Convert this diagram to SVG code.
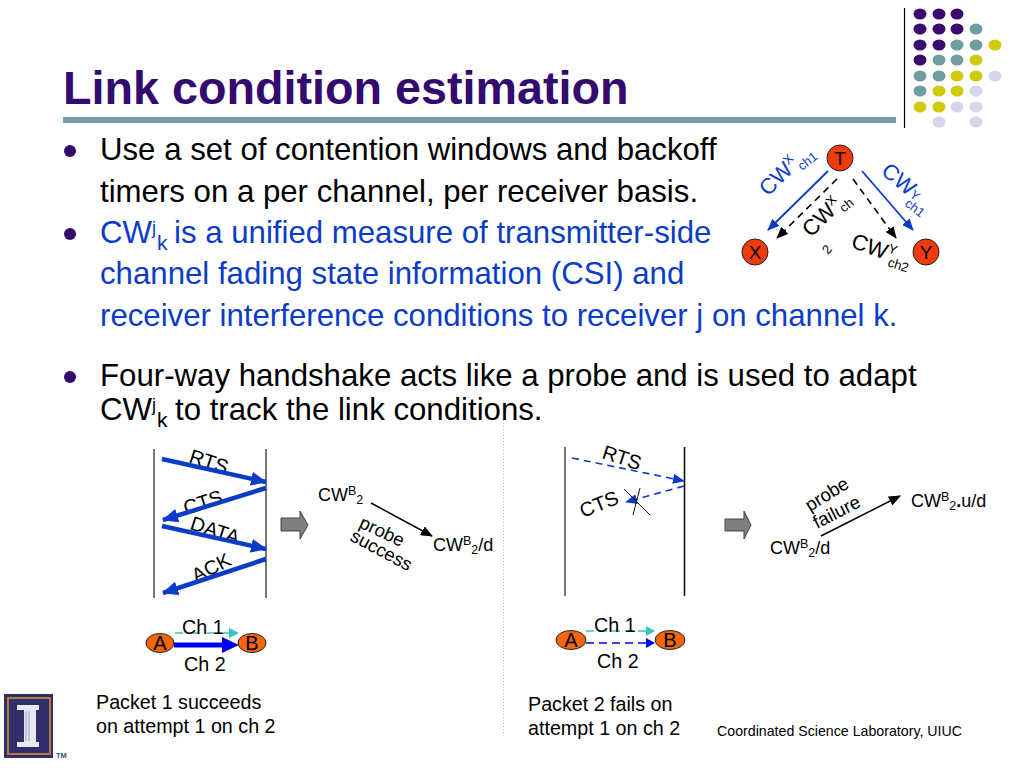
<svg xmlns="http://www.w3.org/2000/svg" width="1024" height="768" viewBox="0 0 1024 768">
<style>
text{font-family:"Liberation Sans",Arial,sans-serif;fill:#000}
.b{font-size:31.2px}
.bl{fill:#0a3cc8}
.c{font-size:19.7px}
.s{font-size:18px}
.m{font-size:20px}
.sup{font-size:12.5px}
.dot1{fill:#3a0a6e}.dot2{fill:#6f9ea0}.dot3{fill:#cfca0c}.dot4{fill:#d4d6ea}
.wire{fill:none;stroke:#000;stroke-width:1.5}
.rail{fill:none;stroke:#777;stroke-width:2}
.thick{fill:none;stroke:#0a3cc8;stroke-width:4.500}
.dash{fill:none;stroke:#0a3cc8;stroke-width:1.6;stroke-dasharray:7 5}
.bd{fill:none;stroke:#000;stroke-width:1.6;stroke-dasharray:7 5}
.node{fill:#f03c0c;stroke:#222;stroke-width:1}
.ell{fill:#f5660a;stroke:#222;stroke-width:1}
.gr{fill:#7f7f7f;stroke:#444;stroke-width:1}
</style>
<defs>
<marker id="hb" markerUnits="userSpaceOnUse" markerWidth="12" markerHeight="10" refX="11" refY="5" orient="auto"><path d="M0 0L12 5L0 10Z" fill="#0a3cc8"/></marker>
<marker id="hk" markerUnits="userSpaceOnUse" markerWidth="12" markerHeight="10" refX="11" refY="5" orient="auto"><path d="M0 0L12 5L0 10Z" fill="#000"/></marker>
<marker id="ht" markerUnits="userSpaceOnUse" markerWidth="16" markerHeight="14" refX="15" refY="7" orient="auto"><path d="M0 0L16 7L0 14Z" fill="#0a3cc8"/></marker>
</defs>

<g id="theme">
<rect x="63" y="117" width="833" height="6" fill="#6f9ea0"/>
<line x1="904.5" y1="8" x2="904.5" y2="128" stroke="#000" stroke-width="1.2"/>
<g class="dot1"><ellipse cx="920" cy="14" rx="6.5" ry="5.5"/><ellipse cx="939" cy="14" rx="6.5" ry="5.5"/><ellipse cx="957" cy="14" rx="6.5" ry="5.5"/><ellipse cx="920" cy="29" rx="6.5" ry="5.5"/><ellipse cx="939" cy="29" rx="6.5" ry="5.5"/><ellipse cx="957" cy="29" rx="6.5" ry="5.5"/><ellipse cx="920" cy="45" rx="6.5" ry="5.5"/><ellipse cx="939" cy="45" rx="6.5" ry="5.5"/><ellipse cx="920" cy="60" rx="6.5" ry="5.5"/></g>
<g class="dot2"><ellipse cx="976" cy="29" rx="6.5" ry="5.5"/><ellipse cx="957" cy="45" rx="6.5" ry="5.5"/><ellipse cx="976" cy="45" rx="6.5" ry="5.5"/><ellipse cx="939" cy="60" rx="6.5" ry="5.5"/><ellipse cx="957" cy="60" rx="6.5" ry="5.5"/><ellipse cx="920" cy="76" rx="6.5" ry="5.5"/><ellipse cx="939" cy="76" rx="6.5" ry="5.5"/><ellipse cx="920" cy="91" rx="6.5" ry="5.5"/></g>
<g class="dot3"><ellipse cx="995" cy="45" rx="6.5" ry="5.5"/><ellipse cx="976" cy="60" rx="6.5" ry="5.5"/><ellipse cx="957" cy="76" rx="6.5" ry="5.5"/><ellipse cx="976" cy="76" rx="6.5" ry="5.5"/><ellipse cx="939" cy="91" rx="6.5" ry="5.5"/><ellipse cx="957" cy="91" rx="6.5" ry="5.5"/><ellipse cx="920" cy="107" rx="6.5" ry="5.5"/><ellipse cx="939" cy="107" rx="6.5" ry="5.5"/></g>
<g class="dot4"><ellipse cx="995" cy="76" rx="6.5" ry="5.5"/><ellipse cx="976" cy="91" rx="6.5" ry="5.5"/><ellipse cx="957" cy="107" rx="6.5" ry="5.5"/><ellipse cx="976" cy="107" rx="6.5" ry="5.5"/><ellipse cx="939" cy="122" rx="6.5" ry="5.5"/><ellipse cx="976" cy="122" rx="6.5" ry="5.5"/></g>
</g>

<g id="title"><text x="63" y="104" font-size="46.7" font-weight="700" style="fill:#330a6e">Link condition estimation</text></g>

<g id="bullets">
<circle cx="70" cy="151" r="6" fill="#330a6e"/><circle cx="70" cy="234" r="6" fill="#330a6e"/><circle cx="70" cy="377" r="6" fill="#330a6e"/>
<text class="b" x="100" y="160">Use a set of contention windows and backoff</text>
<text class="b" x="100" y="202">timers on a per channel, per receiver basis.</text>
<text class="b bl" x="100" y="243">CW</text><text class="bl" x="152" y="234" font-size="18">j</text><text class="bl" x="157" y="250" font-size="21">k</text><text class="b bl" x="174" y="243">is a unified measure of transmitter-side</text>
<text class="b bl" x="100" y="284">channel fading state information (CSI) and</text>
<text class="b bl" x="100" y="326">receiver interference conditions to receiver j on channel k.</text>
<text class="b" x="100" y="386">Four-way handshake acts like a probe and is used to adapt</text>
<text class="b" x="100" y="420">CW</text><text x="152" y="411" font-size="18">j</text><text x="157" y="427" font-size="21">k</text><text class="b" x="175" y="420">to track the link conditions.</text>
</g>

<g id="exchange-left">
<text class="m" transform="translate(188 462) rotate(18)">RTS</text>
<text class="m" transform="translate(186 515) rotate(-18)">CTS</text>
<text class="m" transform="translate(189 529) rotate(18)">DATA</text>
<text class="m" transform="translate(196 583) rotate(-27)">ACK</text>
<text font-size="18.5" transform="translate(358 527) rotate(25)">probe</text>
<text font-size="18.500" transform="translate(349 540) rotate(28)">success</text>
<text class="s" x="318" y="501">CW<tspan class="sup" dy="-6">B</tspan><tspan class="sup" dy="9">2</tspan></text>
<text class="s" x="433" y="551">CW<tspan class="sup" dy="-6">B</tspan><tspan class="sup" dy="9">2</tspan><tspan dy="-3">/d</tspan></text>
</g>

<g id="connectors">
<line x1="503.500" y1="420" x2="503.500" y2="735" stroke="#bbb" stroke-width="1" stroke-dasharray="1 2"/>
<line x1="828" y1="171" x2="768" y2="230" stroke="#0a3cc8" stroke-width="1.8" marker-end="url(#hb)"/>
<line x1="862" y1="171" x2="913" y2="230" stroke="#0a3cc8" stroke-width="1.8" marker-end="url(#hb)"/>
<line x1="837" y1="179" x2="777" y2="238" class="bd" marker-end="url(#hk)"/>
<line x1="853" y1="179" x2="896" y2="238" class="bd" marker-end="url(#hk)"/>

<line x1="154" y1="449" x2="154" y2="598" class="rail"/>
<line x1="266" y1="449" x2="266" y2="598" class="rail"/>
<line x1="162" y1="459" x2="266" y2="482" class="thick" marker-end="url(#ht)"/>
<line x1="266" y1="488" x2="163" y2="520" class="thick" marker-end="url(#ht)"/>
<line x1="162" y1="526" x2="266" y2="549" class="thick" marker-end="url(#ht)"/>
<line x1="266" y1="559" x2="163" y2="593" class="thick" marker-end="url(#ht)"/>
<line x1="371" y1="503" x2="432" y2="536" class="wire" marker-end="url(#hk)"/>

<line x1="565" y1="447" x2="565" y2="596" stroke="#555" stroke-width="1.6"/>
<line x1="684.500" y1="447" x2="684.500" y2="596" stroke="#111" stroke-width="1.6"/>
<line x1="572" y1="458" x2="684" y2="481" class="dash" marker-end="url(#hb)"/>
<line x1="684" y1="486" x2="626" y2="502" class="dash" marker-end="url(#hb)"/>
<line x1="624" y1="489" x2="650" y2="515" stroke="#111" stroke-width="1"/>
<line x1="640" y1="488" x2="633" y2="515" stroke="#111" stroke-width="1"/>
<line x1="821" y1="536" x2="900" y2="496" class="wire" marker-end="url(#hk)"/>

<line x1="175" y1="633" x2="230" y2="633" stroke="#30c8c0" stroke-width="1.5" stroke-dasharray="8 8"/>
<path d="M229 628L239 633L229 638Z" fill="#30c8c0"/>
<line x1="174" y1="645" x2="228" y2="645" stroke="#0000f0" stroke-width="5"/>
<path d="M222 637L239 645L222 653Z" fill="#0000f0"/>

<line x1="586" y1="631" x2="646" y2="631" stroke="#30c8c0" stroke-width="1.5" stroke-dasharray="8 5"/>
<path d="M646 626L655 631L646 636Z" fill="#30c8c0"/>
<line x1="586" y1="643" x2="646" y2="643" stroke="#0000f0" stroke-width="1.5" stroke-dasharray="8 5"/>
<path d="M646 638L655 643L646 648Z" fill="#0000f0"/>
</g>

<g id="node-T"><circle class="node" cx="840" cy="158" r="13"/><text x="840" y="165" font-size="19" text-anchor="middle">T</text></g>
<g id="node-X"><circle class="node" cx="755" cy="252" r="13"/><text x="755" y="259" font-size="19" text-anchor="middle">X</text></g>
<g id="node-Y"><circle class="node" cx="926" cy="252" r="13"/><text x="926" y="259" font-size="19" text-anchor="middle">Y</text></g>

<g id="cw-labels">
<text transform="translate(768 197) rotate(-45)" font-size="22" style="fill:#0a3cc8">CW<tspan font-size="13" dy="-8">X</tspan></text>
<text transform="translate(802 171) rotate(-38)" font-size="13" style="fill:#0a3cc8">ch1</text>
<text transform="translate(880 173) rotate(40)" font-size="22" style="fill:#0a3cc8">CW<tspan font-size="13" dy="-1">Y</tspan></text>
<text transform="translate(904 205) rotate(38)" font-size="13" style="fill:#0a3cc8">ch1</text>
<text transform="translate(811 238) rotate(-45)" font-size="22">CW<tspan font-size="13" dy="-8">X</tspan></text>
<text transform="translate(844 213) rotate(-40)" font-size="13">ch</text>
<text transform="translate(828 255) rotate(-50)" font-size="13">2</text>
<text transform="translate(850 247) rotate(20)" font-size="22">CW<tspan font-size="13" dy="-8">Y</tspan></text>
<text transform="translate(887 266) rotate(18)" font-size="13">ch2</text>
</g>

<g id="arrow-left"><path class="gr" d="M281 518H300V511L308 525L300 539V531H281Z"/></g>

<g id="exchange-right">
<text class="m" transform="translate(601 458) rotate(18)">RTS</text>
<text class="m" transform="translate(583 518) rotate(-22)">CTS</text>
<text font-size="18.500" transform="translate(810 512) rotate(-32)">probe</text>
<text font-size="18.500" transform="translate(817 529) rotate(-27)">failure</text>
<text class="s" x="770" y="554">CW<tspan class="sup" dy="-6">B</tspan><tspan class="sup" dy="9">2</tspan><tspan dy="-3">/d</tspan></text>
<text class="s" x="911" y="507">CW<tspan class="sup" dy="-6">B</tspan><tspan class="sup" dy="9">2</tspan><tspan dy="-3" font-weight="700">.</tspan><tspan>u/d</tspan></text>
</g>
<g id="arrow-right"><path class="gr" d="M725 519H744V511L751 525L744 539V531H725Z"/></g>

<g id="pair-left">
<ellipse class="ell" cx="160" cy="643" rx="14" ry="9.500"/><text x="160" y="650" font-size="20" text-anchor="middle">A</text>
<ellipse class="ell" cx="252" cy="643" rx="14" ry="9.500"/><text x="252" y="650" font-size="20" text-anchor="middle">B</text>
<text class="c" x="182" y="634">Ch 1</text><text class="c" x="184" y="671">Ch 2</text>
</g>
<g id="pair-right">
<ellipse class="ell" cx="571" cy="640" rx="15" ry="9.500"/><text x="571" y="647" font-size="20" text-anchor="middle">A</text>
<ellipse class="ell" cx="670" cy="640" rx="15" ry="9.500"/><text x="670" y="647" font-size="20" text-anchor="middle">B</text>
<text class="c" x="594" y="632">Ch 1</text><text class="c" x="597" y="668">Ch 2</text>
</g>

<g id="captions">
<text class="c" x="96" y="709">Packet 1 succeeds</text>
<text class="c" x="96" y="733">on attempt 1 on ch 2</text>
<text class="c" x="528" y="711">Packet 2 fails on</text>
<text class="c" x="528" y="735">attempt 1 on ch 2</text>
<text x="717" y="736" font-size="14.2">Coordinated Science Laboratory, UIUC</text>
</g>

<g id="logo">
<rect x="4" y="694" width="49" height="64" fill="#2e2f6b"/>
<rect x="8" y="698" width="42" height="56" fill="none" stroke="#b5773a" stroke-width="2"/>
<path d="M17 705H39V710H36V742H39V747H17V742H24V710H17Z" fill="#e8e8f0"/>
<path d="M26 711V741M29 711V741" stroke="#9a9cc0" stroke-width="1"/>
<text x="56" y="758" font-size="7.5" font-weight="700" style="fill:#3a4a7a">TM</text>
</g>
</svg>
